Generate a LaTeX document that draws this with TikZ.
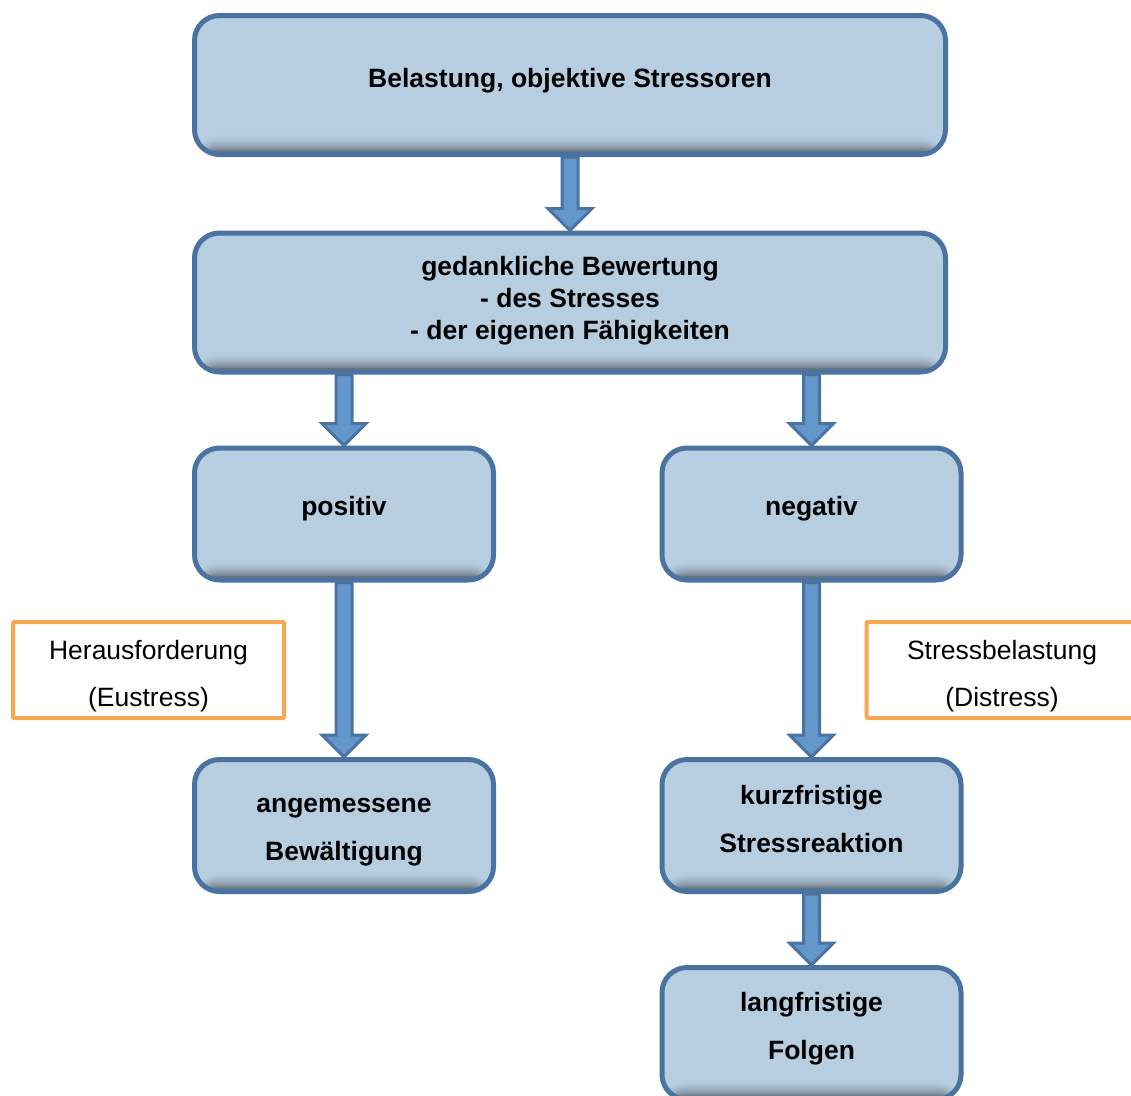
\documentclass[tikz,border=0pt]{standalone}
\usepackage{fontspec}
\setmainfont{Liberation Sans}
\usepackage{xcolor}
\usetikzlibrary{calc}
\definecolor{boxfill}{HTML}{B7CEE1}
\definecolor{boxline}{HTML}{4A73A2}
\definecolor{boxshade}{HTML}{68747F}
\definecolor{arrowfill}{HTML}{6396CA}
\definecolor{notecolor}{HTML}{F9A650}

\begin{document}
\begin{tikzpicture}
    \newlength{\px}
    \setlength{\px}{1pt}
    \tikzset{
        stressbox/.style={draw=boxline,line width=5\px,fill=boxfill,rounded corners=25\px,
            inner sep=0pt,
            path picture={\foreach \i in {1,...,9}
                \fill[boxshade!\the\numexpr\i*\i*100/81\relax!boxfill]
                ($(path picture bounding box.south west)+(0,22\px-2*\i\px)$) rectangle (path picture bounding box.south east);}},
        widebox/.style={stressbox,minimum width=751\px,minimum height=139\px},
        smallbox/.style={stressbox,minimum width=299\px,minimum height=132\px},
        boxtext/.style={align=center,inner sep=0pt,font=\bfseries\fontsize{26.5}{48}\selectfont,
            execute at begin node=\strut,execute at end node=\strut},
        notebox/.style={draw=notecolor,line width=4\px,fill=white,rounded corners=1\px,
            inner sep=0pt,minimum width=271\px,minimum height=96\px},
        notetext/.style={boxtext,font=\fontsize{26.5}{47}\selectfont},
        blockarrow/.style={draw=boxline,line width=3\px,fill=arrowfill,line join=miter}
    }
    \newcommand{\blockarrow}[2]{%
        \draw[blockarrow] ($(#1.south -| #2.north)+(-8\px,0)$) -- ($(#2.north)+(-8\px,22\px)$)
            -- ($(#2.north)+(-22\px,22\px)$) -- (#2.north) -- ($(#2.north)+(22\px,22\px)$)
            -- ($(#2.north)+(8\px,22\px)$) -- ($(#1.south -| #2.north)+(8\px,0)$) -- cycle;}
    \useasboundingbox (0\px,0\px) rectangle (1131\px,-1095\px);
    % Stress chain
    \node[widebox] (belastung) at (570\px,-85\px) {};
    \node[boxtext] (belastung-text) at ([yshift=7\px]belastung.center) {Belastung, objektive Stressoren};
    \node[widebox] (bewertung) at (570\px,-302.5\px) {};
    \node[boxtext,font=\bfseries\fontsize{26.5}{32}\selectfont] (bewertung-text) at ([yshift=-0.5\px]bewertung.center)
        {gedankliche Bewertung\\- des Stresses\\- der eigenen Fähigkeiten};
    % Branches
    \node[smallbox] (positiv) at (344\px,-514\px) {};
    \node[boxtext] (positiv-text) at ([yshift=8\px]positiv.center) {positiv};
    \node[smallbox] (negativ) at (811.5\px,-514\px) {};
    \node[boxtext] (negativ-text) at ([yshift=8\px]negativ.center) {negativ};
    \node[smallbox] (bewaeltigung) at (344\px,-825.5\px) {};
    \node[boxtext] (bewaeltigung-text) at ([yshift=-11\px]bewaeltigung.center) {angemessene\\Bewältigung};
    \node[smallbox] (reaktion) at (811.5\px,-825.5\px) {};
    \node[boxtext] (reaktion-text) at ([yshift=-1\px]reaktion.center) {kurzfristige\\Stressreaktion};
    \node[smallbox] (folgen) at (811.5\px,-1033.5\px) {};
    \node[boxtext] (folgen-text) at (folgen.center) {langfristige\\Folgen};
    % Notes
    \node[notebox] (eustress) at (148.5\px,-670\px) {};
    \node[notetext] (eustress-text) at ([yshift=-10\px]eustress.center) {Herausforderung\\(Eustress)};
    \node[notebox] (distress) at (1002\px,-670\px) {};
    \node[notetext] (distress-text) at ([yshift=-10\px]distress.center) {Stressbelastung\\(Distress)};
    % Arrows
    \blockarrow{belastung}{bewertung}
    \blockarrow{bewertung}{positiv}
    \blockarrow{bewertung}{negativ}
    \blockarrow{positiv}{bewaeltigung}
    \blockarrow{negativ}{reaktion}
    \blockarrow{reaktion}{folgen}
\end{tikzpicture}
\end{document}
